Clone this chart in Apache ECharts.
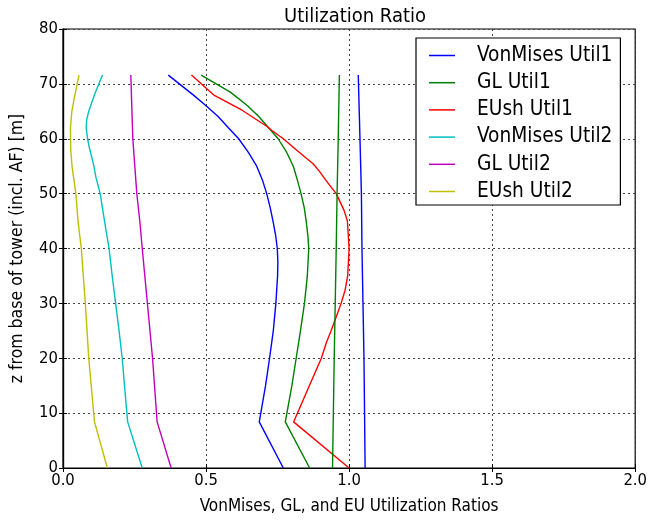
<!DOCTYPE html>
<html>
<head>
<meta charset="utf-8">
<script src="https://cdn.jsdelivr.net/npm/echarts@6/dist/echarts.min.js"></script>
<style>html,body{margin:0;padding:0;background:#fff}#c{width:650px;height:520px}</style>
</head>
<body>
<div id="c"></div>
<script>
// ---- data (x = utilization ratio, z = height [m]) ----
var legendNames = ['VonMises Util1', 'GL Util1', 'EUsh Util1', 'VonMises Util2', 'GL Util2', 'EUsh Util2'];
var xTicks = [0.0, 0.5, 1.0, 1.5, 2.0];
var yTicks = [0, 10, 20, 30, 40, 50, 60, 70, 80];

var vm1Z = [0, 8.4, 15, 20, 25, 30, 35, 37.5, 40, 42.5, 45, 47.5, 50, 52.5, 55, 57.5, 60, 62, 64, 66, 68, 71.6];
var vm1X = [0.770, 0.686, 0.708, 0.722, 0.735, 0.744, 0.750, 0.751, 0.749, 0.743, 0.734, 0.724, 0.712, 0.697, 0.677, 0.648, 0.614, 0.578, 0.543, 0.500, 0.455, 0.368];

var gl1Z = [0, 8.4, 15, 20, 25, 30, 35, 40, 42.3, 45, 47.5, 50, 52.5, 55, 57.5, 60, 62.1, 64, 66, 68.5, 71.6];
var gl1X = [0.862, 0.777, 0.800, 0.815, 0.830, 0.844, 0.854, 0.859, 0.856, 0.850, 0.843, 0.832, 0.819, 0.805, 0.782, 0.752, 0.717, 0.685, 0.645, 0.585, 0.483];

var eu1Z = [0, 8.4, 15, 20, 22.9, 25, 27.1, 30, 32.4, 35, 40, 45, 47, 50, 52, 54, 55.4, 57.9, 60, 61.5, 62.1, 65.2, 67.9, 71.6];
var eu1X = [1.000, 0.806, 0.861, 0.903, 0.921, 0.937, 0.952, 0.972, 0.986, 0.995, 1.000, 0.994, 0.982, 0.955, 0.925, 0.897, 0.875, 0.817, 0.770, 0.730, 0.717, 0.626, 0.529, 0.449];

var vm1bZ = [0, 20, 40, 50, 60, 71.6];
var vm1bX = [1.056, 1.052, 1.045, 1.043, 1.038, 1.032];

var gl1bZ = [0, 20, 40, 50, 60, 71.6];
var gl1bX = [0.942, 0.948, 0.955, 0.958, 0.962, 0.966];

var vm2Z = [0, 8.4, 15, 20, 25, 30, 35, 40, 44.7, 50, 53, 55, 58.4, 60, 62, 63.5, 65, 68, 71.6];
var vm2X = [0.277, 0.226, 0.215, 0.207, 0.196, 0.184, 0.172, 0.161, 0.146, 0.130, 0.115, 0.108, 0.092, 0.086, 0.081, 0.083, 0.090, 0.110, 0.138];

var gl2Z = [0, 8.4, 20, 30, 40, 44.7, 50, 60, 71.6];
var gl2X = [0.378, 0.329, 0.313, 0.295, 0.277, 0.269, 0.258, 0.244, 0.237];

var eu2Z = [0, 8.4, 20, 30, 40, 44.7, 50, 54.8, 58, 62, 65, 67.3, 71.6];
var eu2X = [0.155, 0.110, 0.090, 0.078, 0.064, 0.053, 0.045, 0.032, 0.027, 0.026, 0.031, 0.039, 0.056];

function pairs(xs, zs) { return xs.map(function (x, i) { return [x, zs[i]]; }); }

var colors = ['#0000ff', '#008000', '#ff0000', '#00bfbf', '#bf00bf', '#bfbf00'];
var FONT = "'DejaVu Sans Condensed', 'DejaVu Sans'";

function line(name, data, color) {
  return {
    type: 'line', name: name, data: data, showSymbol: false, symbol: 'none',
    lineStyle: { color: color, width: 1.4 }, itemStyle: { color: color },
    animation: false, silent: true, xAxisIndex: 0, yAxisIndex: 0
  };
}

var series = [
  line(legendNames[0], pairs(vm1X, vm1Z), colors[0]),
  line(legendNames[1], pairs(gl1X, gl1Z), colors[1]),
  line(legendNames[2], pairs(eu1X, eu1Z), colors[2]),
  line(legendNames[3], pairs(vm2X, vm2Z), colors[3]),
  line(legendNames[4], pairs(gl2X, gl2Z), colors[4]),
  line(legendNames[5], pairs(eu2X, eu2Z), colors[5]),
  line('VonMises Util1 (b)', pairs(vm1bX, vm1bZ), colors[0]),
  line('GL Util1 (b)', pairs(gl1bX, gl1bZ), colors[1])
];

var chart = echarts.init(document.getElementById('c'), null, { renderer: 'canvas' });
var gridLine = { show: true, lineStyle: { color: '#444', type: [2, 3], width: 1 } };
chart.setOption({
  backgroundColor: '#fff',
  animation: false,
  textStyle: { fontFamily: FONT },
  title: {
    text: 'Utilization Ratio', left: 350, top: 2, textAlign: 'center',
    textStyle: { fontFamily: FONT, fontSize: 20, fontWeight: 'normal', color: '#000' }
  },
  grid: { left: 58, right: 9, top: 29, bottom: 41, show: true, borderColor: '#000', borderWidth: 1.2, backgroundColor: 'transparent' },
  legend: {
    data: legendNames.map(function (n) { return { name: n, icon: 'rect' }; }),
    orient: 'vertical', left: 416, top: 38,
    itemWidth: 26, itemHeight: 1.5, itemGap: 6.2,
    padding: [7, 8, 3, 13],
    borderColor: '#000', borderWidth: 1.2, backgroundColor: '#fff',
    textStyle: { fontFamily: FONT, fontSize: 20.7, color: '#000', lineHeight: 21, padding: [0, 0, 0, 17] },
    selectedMode: false
  },
  xAxis: [{
    type: 'value', min: 0, max: 2, interval: 0.5,
    name: 'VonMises, GL, and EU Utilization Ratios', nameLocation: 'middle', nameGap: 30,
    nameTextStyle: { fontFamily: FONT, fontSize: 17, color: '#000' },
    axisLine: { show: true, lineStyle: { color: '#000', width: 1.2 } },
    axisTick: { show: true, inside: true, length: 4, lineStyle: { color: '#000' } },
    axisLabel: { fontFamily: FONT, fontSize: 16.5, color: '#000', margin: 4, formatter: function (v) { return v.toFixed(1); } },
    splitLine: gridLine
  }, {
    type: 'value', min: 0, max: 2, interval: 0.5, position: 'top',
    axisLine: { show: true, lineStyle: { color: '#000', width: 1.2 } },
    axisTick: { show: true, inside: true, length: 4, lineStyle: { color: '#000' } },
    axisLabel: { show: false }, splitLine: { show: false }
  }],
  yAxis: [{
    type: 'value', min: 0, max: 80, interval: 10,
    name: 'z from base of tower (incl. AF) [m]', nameLocation: 'middle', nameGap: 37, nameRotate: 90,
    nameTextStyle: { fontFamily: FONT, fontSize: 17.5, color: '#000' },
    axisLine: { show: true, lineStyle: { color: '#000', width: 1.2 } },
    axisTick: { show: true, inside: true, length: 4, lineStyle: { color: '#000' } },
    axisLabel: { fontFamily: FONT, fontSize: 16.5, color: '#000', margin: 5 },
    splitLine: gridLine
  }, {
    type: 'value', min: 0, max: 80, interval: 10, position: 'right',
    axisLine: { show: true, lineStyle: { color: '#000', width: 1.2 } },
    axisTick: { show: true, inside: true, length: 4, lineStyle: { color: '#000' } },
    axisLabel: { show: false }, splitLine: { show: false }
  }],
  series: series
});
</script>
</body>
</html>
